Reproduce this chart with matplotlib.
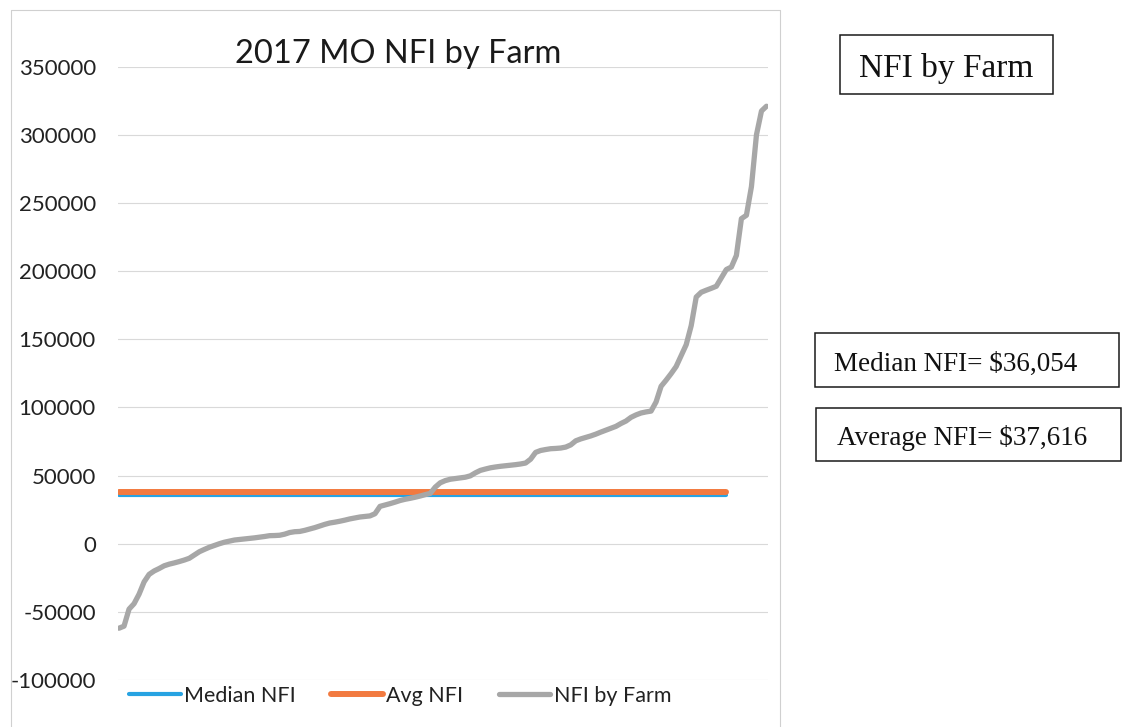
#!/usr/bin/env python
# -*- coding: utf-8 -*-

"""
2017 MO NFI by Farm, redrawn from the scanned Excel chart.
"""

import matplotlib
matplotlib.use('Agg')
from matplotlib import pyplot as plt
from matplotlib.patches import Rectangle
from matplotlib.lines import Line2D

# data (farms sorted by NFI)
nfi_by_farm = [
    -62000, -60500, -48000, -44000, -37000, -28000, -22500, -20000, -18200, -16200,
    -15000, -14100, -13100, -12000, -10700, -8300, -5900, -4200, -2600, -1300,
    0, 1100, 1900, 2700, 3100, 3500, 3900, 4300, 4800, 5300,
    5900, 6000, 6200, 7000, 8200, 8800, 9000, 9800, 10800, 11800,
    13000, 14200, 15200, 15800, 16500, 17300, 18200, 18900, 19600, 20000,
    20400, 22000, 27400, 28400, 29400, 30500, 31700, 32600, 33300, 34100,
    35000, 36000, 36900, 41500, 44700, 46300, 47300, 47800, 48300, 48800,
    49800, 52000, 53800, 54800, 55700, 56300, 56800, 57200, 57600, 58000,
    58500, 59200, 62000, 67000, 68400, 69100, 69700, 69900, 70200, 70900,
    72500, 75500, 76900, 78000, 79100, 80400, 81900, 83300, 84700, 86100,
    88200, 90000, 92700, 94500, 95900, 96700, 97300, 104000, 115500, 120000,
    124800, 130000, 138000, 146000, 160000, 181000, 184500, 186000, 187400, 188900,
    195000, 201200, 203000, 211500, 238500, 241000, 262000, 300000, 317500, 321000,
]
median_nfi = 36054
avg_nfi = 37616
n_ref_rows = 122  # median / avg columns are shorter than the farm column

series_names = ['Median NFI', 'Avg NFI', 'NFI by Farm']
series_colors = ['#27A3E2', '#F27A40', '#A7A7A7']
yticks = [-100000, -50000, 0, 50000, 100000, 150000, 200000, 250000, 300000, 350000]

W, H = 1125, 727


def fx(px):
    return px / W


def fy(py):
    return 1 - py / H


def main():
    plt.rcParams['font.family'] = ['Lato', 'DejaVu Sans']
    fig = plt.figure(figsize=(W / 100, H / 100), dpi=100)
    fig.patch.set_facecolor('white')

    # chart area frame (faint, as in the scan)
    frame = Line2D([fx(11), fx(11), fx(780), fx(780)], [0, fy(10), fy(10), 0],
                   transform=fig.transFigure, color='#D0D0D0', lw=0.8)
    fig.add_artist(frame)

    ax = fig.add_axes((fx(118), fy(680), fx(768) - fx(118), fy(66.7) - fy(680)))
    x_farm = list(range(len(nfi_by_farm)))
    x_ref = list(range(n_ref_rows))
    ax.plot(x_ref, [median_nfi] * n_ref_rows, color=series_colors[0], lw=3.0,
            solid_capstyle='round', label=series_names[0], zorder=3)
    ax.plot(x_ref, [avg_nfi] * n_ref_rows, color=series_colors[1], lw=4.3,
            solid_capstyle='round', label=series_names[1], zorder=4)
    ax.plot(x_farm, nfi_by_farm, color=series_colors[2], lw=3.8,
            solid_capstyle='round', solid_joinstyle='round',
            label=series_names[2], zorder=5)

    ax.set_xlim(-0.2, len(nfi_by_farm) - 1 + 0.3)
    ax.set_ylim(-100000, 350000)
    ax.set_yticks(yticks)
    ax.set_yticklabels([str(t) for t in yticks])
    ax.set_xticks([])
    ax.grid(axis='y', color='#D9D9D9', lw=0.8)
    ax.set_axisbelow(True)
    for s in ax.spines.values():
        s.set_visible(False)
    ax.tick_params(axis='y', length=0, pad=16, labelsize=16, labelcolor='#222222')

    fig.text(fx(398), fy(63), '2017 MO NFI by Farm', ha='center', va='baseline',
             fontsize=23.5, color='#1A1A1A')

    handles, labels = ax.get_legend_handles_labels()
    fig.legend(handles, labels, loc='center left', ncol=3,
               bbox_to_anchor=(fx(129), fy(696)), frameon=False, fontsize=15.5,
               handlelength=2.4, handletextpad=0.15, columnspacing=1.65,
               borderpad=0, borderaxespad=0, labelcolor='#222222')

    # text boxes on the right
    boxes = [
        ((840, 35, 1053, 94), (946, 65), 'NFI by Farm', 24),
        ((815, 333, 1119, 387), (956, 361), 'Median NFI= $36,054', 19.5),
        ((816, 408, 1121, 461), (962, 435), 'Average NFI= $37,616', 19.5),
    ]
    for (x0, y0, x1, y1), (tx, ty), txt, size in boxes:
        rect = Rectangle((fx(x0), fy(y1)), fx(x1) - fx(x0), fy(y0) - fy(y1),
                         transform=fig.transFigure, fill=False,
                         edgecolor='#1A1A1A', lw=1.1)
        fig.add_artist(rect)
        fig.text(fx(tx), fy(ty), txt, ha='center', va='center_baseline',
                 fontsize=size, family=['Liberation Serif', 'DejaVu Serif'],
                 color='#111111')

    fig.savefig('out.png', dpi=100)


if __name__ == '__main__':
    main()
